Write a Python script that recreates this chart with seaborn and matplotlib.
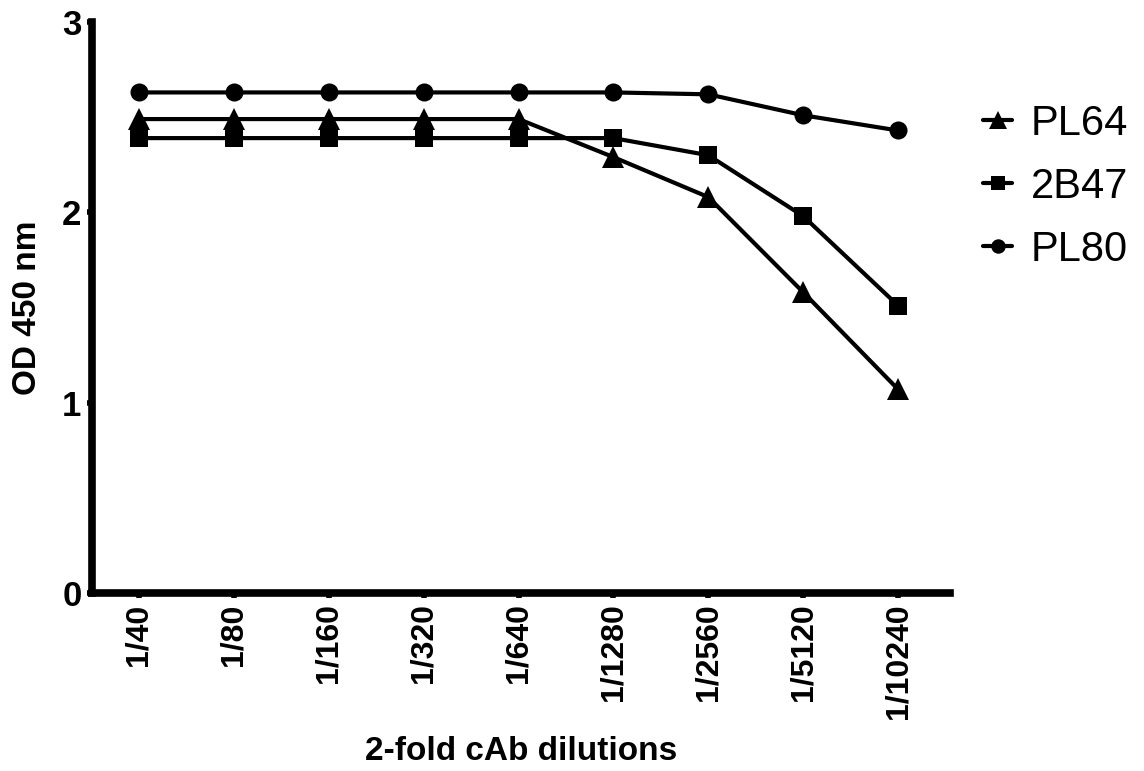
import matplotlib
matplotlib.use("Agg")
import matplotlib.pyplot as plt
import seaborn as sns
import pandas as pd

dilutions = ["1/40", "1/80", "1/160", "1/320", "1/640", "1/1280", "1/2560", "1/5120", "1/10240"]
pl64 = [2.49, 2.49, 2.49, 2.49, 2.49, 2.29, 2.08, 1.58, 1.07]
b2b47 = [2.39, 2.39, 2.39, 2.39, 2.39, 2.39, 2.30, 1.98, 1.51]
pl80 = [2.63, 2.63, 2.63, 2.63, 2.63, 2.63, 2.62, 2.51, 2.43]
series_names = ["PL64", "2B47", "PL80"]

sns.set_theme(style="ticks")
plt.rcParams["font.family"] = ["Liberation Sans", "DejaVu Sans"]
plt.rcParams.update({"text.color": "black", "axes.labelcolor": "black",
                     "xtick.color": "black", "ytick.color": "black",
                     "axes.edgecolor": "black"})

rows = []
for name, vals in zip(series_names, [pl64, b2b47, pl80]):
    for i, (d, v) in enumerate(zip(dilutions, vals)):
        rows.append({"pos": i, "dilution": d, "od": v, "antibody": name})
df = pd.DataFrame(rows)

fig = plt.figure(figsize=(11.44, 7.71), dpi=100)
ax = fig.add_axes([92 / 1144, 1 - 593 / 771, (950 - 92) / 1144, (593 - 22) / 771])

sns.lineplot(data=df, x="pos", y="od", style="antibody", style_order=series_names,
             markers={"PL64": "^", "2B47": "s", "PL80": "o"}, dashes=False,
             color="black", linewidth=3, markersize=13, markeredgewidth=0,
             sort=False, ax=ax, legend=True)

for ln in ax.lines:
    if ln.get_marker() == "^":
        ln.set_markersize(16)

ax.set_xlim(-0.495, 8.547)
ax.set_ylim(0, 3)
ax.set_xticks(range(len(dilutions)))
ax.set_xticklabels(dilutions, rotation=90, fontsize=23, fontweight="bold", color="black")
ax.set_yticks([0, 1, 2, 3])
ax.set_yticklabels(["0", "1", "2", "3"], fontsize=25, fontweight="bold", color="black")
ax.tick_params(axis="both", direction="out", length=3.5, width=4, color="black", pad=4)

for s in ["top", "right"]:
    ax.spines[s].set_visible(False)
for s in ["left", "bottom"]:
    ax.spines[s].set_linewidth(5.5)
    ax.spines[s].set_color("black")

ax.set_xlabel("2-fold cAb dilutions", fontsize=24, fontweight="bold", labelpad=12, color="black")
ax.set_ylabel("OD 450 nm", fontsize=24, fontweight="bold", labelpad=14, color="black")

handles, labels = ax.get_legend_handles_labels()
leg = ax.legend(handles, labels, loc="upper left", bbox_to_anchor=(983 / 1144, 1 - 104 / 771),
                bbox_transform=fig.transFigure, frameon=False, fontsize=30,
                borderpad=0, borderaxespad=0,
                handlelength=0.7, handletextpad=0.45, labelspacing=0.55, markerscale=0.8)
for h in leg.legend_handles:
    h.set_color("black")
    h.set_linewidth(3)
for t in leg.get_texts():
    t.set_color("black")

fig.savefig("out.png", dpi=100)
